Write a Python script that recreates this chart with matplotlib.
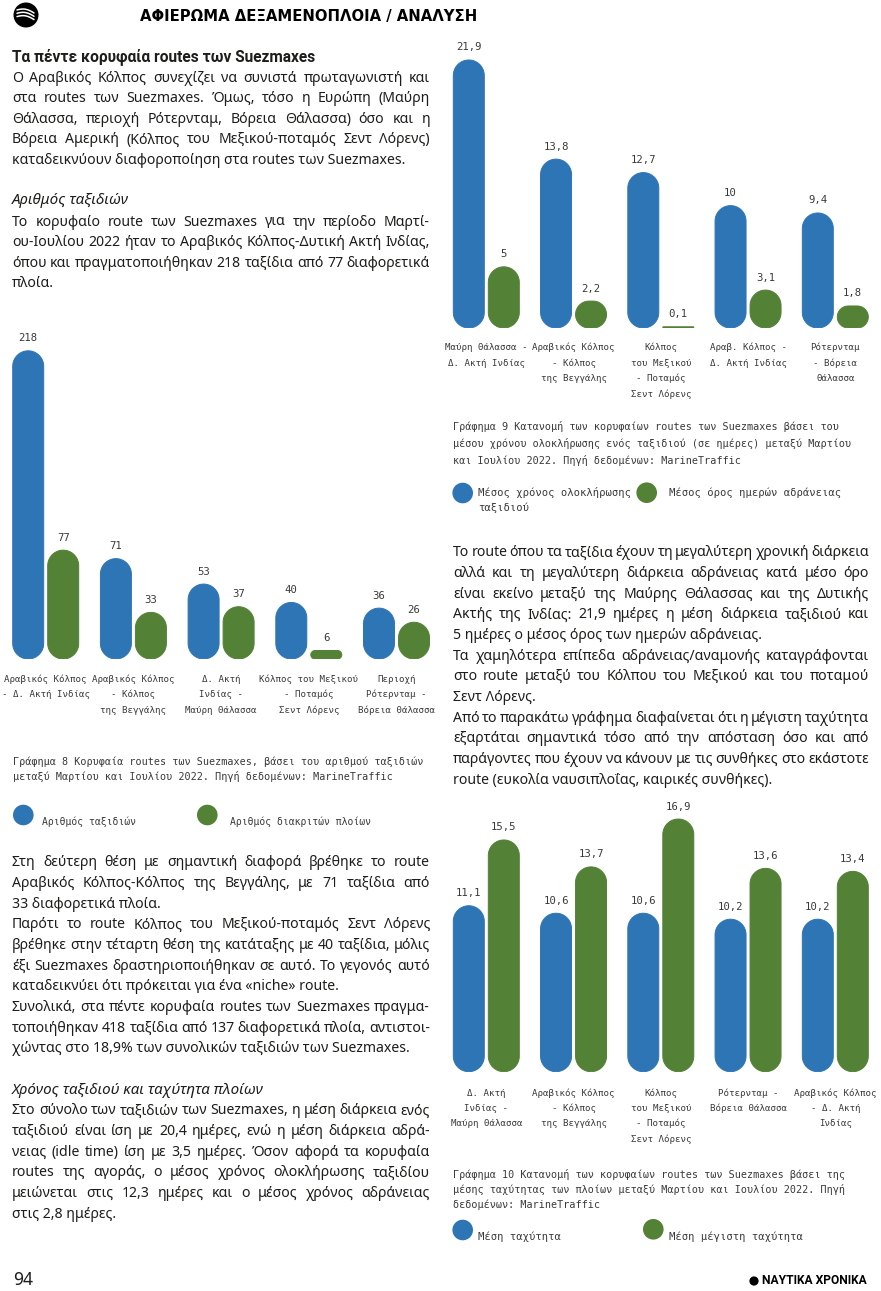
import numpy as np
import matplotlib
matplotlib.use("Agg")
import matplotlib.pyplot as plt
from matplotlib.patches import Polygon, Circle
from matplotlib.lines import Line2D
from matplotlib.transforms import Affine2D
from matplotlib.font_manager import FontProperties

W, H = 881, 1291
BLUE = "#2e75b6"
GREEN = "#538135"
INK = "#1d1d1b"
GREY = "#3a3a3a"
SANS = ["Noto Sans", "DejaVu Sans"]
BOLD = ["Roboto", "DejaVu Sans"]
MONO = ["DejaVu Sans Mono"]

# ---- Γράφημα 8: αριθμός ταξιδιών / διακριτών πλοίων
routes_trips = ["Αραβικός Κόλπος\n- Δ. Ακτή Ινδίας",
                "Αραβικός Κόλπος\n- Κόλπος\nτης Βεγγάλης",
                "Δ. Ακτή\nΙνδίας -\nΜαύρη Θάλασσα",
                "Κόλπος του Μεξικού\n- Ποταμός\nΣεντ Λόρενς",
                "Περιοχή\nΡότερνταμ -\nΒόρεια Θάλασσα"]
trips = [218, 71, 53, 40, 36]
ships = [77, 33, 37, 6, 26]

# ---- Γράφημα 9: μέσος χρόνος ταξιδιού / ημέρες αδράνειας
routes_time = ["Μαύρη Θάλασσα -\nΔ. Ακτή Ινδίας",
               "Αραβικός Κόλπος\n- Κόλπος\nτης Βεγγάλης",
               "Κόλπος\nτου Μεξικού\n- Ποταμός\nΣεντ Λόρενς",
               "Αραβ. Κόλπος -\nΔ. Ακτή Ινδίας",
               "Ρότερνταμ\n- Βόρεια\nΘάλασσα"]
voyage_days = [21.9, 13.8, 12.7, 10, 9.4]
idle_days = [5, 2.2, 0.1, 3.1, 1.8]

# ---- Γράφημα 10: μέση / μέγιστη ταχύτητα
routes_speed = ["Δ. Ακτή\nΙνδίας -\nΜαύρη Θάλασσα",
                "Αραβικός Κόλπος\n- Κόλπος\nτης Βεγγάλης",
                "Κόλπος\nτου Μεξικού\n- Ποταμός\nΣεντ Λόρενς",
                "Ρότερνταμ -\nΒόρεια Θάλασσα",
                "Αραβικός Κόλπος\n- Δ. Ακτή\nΙνδίας"]
avg_speed = [11.1, 10.6, 10.6, 10.2, 10.2]
max_speed = [15.5, 13.7, 16.9, 13.6, 13.4]

captions = {
    8: ["Γράφημα 8 Κορυφαία routes των Suezmaxes, βάσει του αριθμού ταξιδιών",
        "μεταξύ Μαρτίου και Ιουλίου 2022. Πηγή δεδομένων: MarineTraffic"],
    9: ["Γράφημα 9 Κατανομή των κορυφαίων routes των Suezmaxes βάσει του",
        "μέσου χρόνου ολοκλήρωσης ενός ταξιδιού (σε ημέρες) μεταξύ Μαρτίου",
        "και Ιουλίου 2022. Πηγή δεδομένων: MarineTraffic"],
    10: ["Γράφημα 10 Κατανομή των κορυφαίων routes των Suezmaxes βάσει της",
         "μέσης ταχύτητας των πλοίων μεταξύ Μαρτίου και Ιουλίου 2022. Πηγή",
         "δεδομένων: MarineTraffic"],
}

# body text, one list per paragraph (last line of each is left aligned)
left_top = [
    ["Ο Αραβικός Κόλπος συνεχίζει να συνιστά πρωταγωνιστή και",
     "στα routes των Suezmaxes. Όμως, τόσο η Ευρώπη (Μαύρη",
     "Θάλασσα, περιοχή Ρότερνταμ, Βόρεια Θάλασσα) όσο και η",
     "Βόρεια Αμερική (Κόλπος του Μεξικού-ποταμός Σεντ Λόρενς)",
     "καταδεικνύουν διαφοροποίηση στα routes των Suezmaxes."],
]
left_mid = [
    ["Το κορυφαίο route των Suezmaxes για την περίοδο Μαρτί-",
     "ου-Ιουλίου 2022 ήταν το Αραβικός Κόλπος-Δυτική Ακτή Ινδίας,",
     "όπου και πραγματοποιήθηκαν 218 ταξίδια από 77 διαφορετικά",
     "πλοία."],
]
left_bottom = [
    ["Στη δεύτερη θέση με σημαντική διαφορά βρέθηκε το route",
     "Αραβικός Κόλπος-Κόλπος της Βεγγάλης, με 71 ταξίδια από",
     "33 διαφορετικά πλοία."],
    ["Παρότι το route Κόλπος του Μεξικού-ποταμός Σεντ Λόρενς",
     "βρέθηκε στην τέταρτη θέση της κατάταξης με 40 ταξίδια, μόλις",
     "έξι Suezmaxes δραστηριοποιήθηκαν σε αυτό. Το γεγονός αυτό",
     "καταδεικνύει ότι πρόκειται για ένα «niche» route."],
    ["Συνολικά, στα πέντε κορυφαία routes των Suezmaxes πραγμα-",
     "τοποιήθηκαν 418 ταξίδια από 137 διαφορετικά πλοία, αντιστοι-",
     "χώντας στο 18,9% των συνολικών ταξιδιών των Suezmaxes."],
]
left_last = [
    ["Στο σύνολο των ταξιδιών των Suezmaxes, η μέση διάρκεια ενός",
     "ταξιδιού είναι ίση με 20,4 ημέρες, ενώ η μέση διάρκεια αδρά-",
     "νειας (idle time) ίση με 3,5 ημέρες. Όσον αφορά τα κορυφαία",
     "routes της αγοράς, ο μέσος χρόνος ολοκλήρωσης ταξιδίου",
     "μειώνεται στις 12,3 ημέρες και ο μέσος χρόνος αδράνειας",
     "στις 2,8 ημέρες."],
]
right_text = [
    ["Το route όπου τα ταξίδια έχουν τη μεγαλύτερη χρονική διάρκεια",
     "αλλά και τη μεγαλύτερη διάρκεια αδράνειας κατά μέσο όρο",
     "είναι εκείνο μεταξύ της Μαύρης Θάλασσας και της Δυτικής",
     "Ακτής της Ινδίας: 21,9 ημέρες η μέση διάρκεια ταξιδιού και",
     "5 ημέρες ο μέσος όρος των ημερών αδράνειας."],
    ["Τα χαμηλότερα επίπεδα αδράνειας/αναμονής καταγράφονται",
     "στο route μεταξύ του Κόλπου του Μεξικού και του ποταμού",
     "Σεντ Λόρενς."],
    ["Από το παρακάτω γράφημα διαφαίνεται ότι η μέγιστη ταχύτητα",
     "εξαρτάται σημαντικά τόσο από την απόσταση όσο και από",
     "παράγοντες που έχουν να κάνουν με τις συνθήκες στο εκάστοτε",
     "route (ευκολία ναυσιπλοΐας, καιρικές συνθήκες)."],
]

fig = plt.figure(figsize=(W / 100, H / 100), dpi=100)
fig.patch.set_facecolor("white")
# page pixel coordinates, origin top-left
PX = Affine2D().scale(1 / W, -1 / H).translate(0, 1) + fig.transFigure
renderer = fig.canvas.get_renderer()


def text_width(s, prop):
    return renderer.get_text_width_height_descent(s, prop, ismath=False)[0]


def fit_size(s, family, weight, width, style="normal"):
    p = FontProperties(family=family, weight=weight, style=style, size=10)
    return 10 * width / text_width(s, p)


def put(x, y, s, **kw):
    kw.setdefault("va", "baseline")
    kw.setdefault("ha", "left")
    return fig.text(x, y, s, transform=PX, **kw)


# ---- body font size: calibrate on a known last line, then make sure lines fit
body_size = fit_size("καταδεικνύουν διαφοροποίηση στα routes των Suezmaxes.", SANS, "normal", 401)
probe = FontProperties(family=SANS, size=10)
space10 = text_width("a a", probe) - text_width("aa", probe)
for block in left_top + left_mid + left_bottom + left_last + right_text:
    for line in block[:-1]:
        words = line.split(" ")
        need = (sum(text_width(w, probe) for w in words) + 0.65 * space10 * (len(words) - 1)) * body_size / 10
        if need > 417:
            body_size *= 417 / need
BODY = FontProperties(family=SANS, size=body_size)


def paragraphs(blocks, x0, x1, y0, step=20.65):
    y = y0
    for block in blocks:
        for i, line in enumerate(block):
            words = line.split(" ")
            if i == len(block) - 1 or len(words) == 1:
                put(x0, y, line, fontproperties=BODY, color=INK)
            else:
                widths = [text_width(w, BODY) for w in words]
                gap = (x1 - x0 - sum(widths)) / (len(words) - 1)
                x = x0
                for w, wd in zip(words, widths):
                    put(x, y, w, fontproperties=BODY, color=INK)
                    x += wd + gap
            y += step
    return y


def pill(ax, x, v, bw, m, col):
    # rounded bar: corner radius = half the bar width (or half its height if shorter)
    rx = min(bw / 2, v / (2 * m))
    ry = rx * m
    q = np.linspace(0, np.pi / 2, 14)
    corners = [(x + bw / 2 - rx, v - ry, 0), (x - bw / 2 + rx, v - ry, np.pi / 2),
               (x - bw / 2 + rx, ry, np.pi), (x + bw / 2 - rx, ry, 1.5 * np.pi)]
    pts = [np.column_stack([cx + rx * np.cos(a0 + q), cy + ry * np.sin(a0 + q)])
           for cx, cy, a0 in corners]
    ax.add_patch(Polygon(np.vstack(pts), closed=True, fc=col, ec=col, lw=0.7))


def bar_chart(left, right, top, base, group0, step, ymax, a, b, labels, lab_gap, lab_step):
    ax = fig.add_axes([left / W, 1 - base / H, (right - left) / W, (base - top) / H])
    ax.set_xlim(-(group0 - left) / step, (right - group0) / step)
    ax.set_ylim(0, ymax)
    ax.axis("off")
    bw = 31 / step
    off = 17.5 / step
    m = (ymax / (base - top)) * step  # y units per x unit, in pixels
    pos = np.arange(len(a))
    for xs, vals, col in ((pos - off, a, BLUE), (pos + off, b, GREEN)):
        for x, v in zip(xs, vals):
            pill(ax, x, v, bw, m, col)
            ax.annotate(f"{v:g}".replace(".", ","), (x, v), xytext=(0, 9.5),
                        textcoords="offset pixels", ha="center", va="baseline",
                        family=MONO, size=7.7, color=GREY)
    for x, lab in zip(pos, labels):
        for j, ln in enumerate(lab.split("\n")):
            ax.annotate(ln, (x, 0), xytext=(0, -(lab_gap + 3.5 + j * lab_step)),
                        textcoords="offset pixels", ha="center", va="baseline",
                        family=MONO, size=6.55, color=GREY, annotation_clip=False)
    return ax


def caption(lines, x, y, step):
    for i, ln in enumerate(lines):
        put(x, y + 3.5 + i * step, ln, family=MONO, size=7.3, color=GREY)


def legend_item(cx, cy, col, tx, ty, label, size):
    fig.add_artist(Circle((cx, cy), 10.3, transform=PX, fc=col, ec="none"))
    for i, ln in enumerate(label.split("\n")):
        put(tx, ty + 3.5 + i * 15, ln, family=MONO, size=size, color=GREY)


# ---- header
fig.add_artist(Circle((26, 15), 12.5, transform=PX, fc="black", ec="none"))
t = np.linspace(0, 1, 30)
for k in range(3):
    fig.add_artist(Line2D(17 + 17 * t, 10 + 3.3 * k + 3 * t ** 2 - 1.5 * np.sin(np.pi * t),
                          transform=PX, color="white", lw=1.1, solid_capstyle="round"))
title = "ΑΦΙΕΡΩΜΑ ΔΕΞΑΜΕΝΟΠΛΟΙΑ / ΑΝΑΛΥΣΗ"
title_family = ["Liberation Sans Narrow", "DejaVu Sans"]
put(140, 20.5, title, family=title_family, weight="bold", color="black",
    size=fit_size(title, title_family, "bold", 337))

# ---- left column text
head1 = "Τα πέντε κορυφαία routes των Suezmaxes"
put(12, 61.5, head1, family=BOLD, weight="bold", color=INK,
    size=fit_size(head1, BOLD, "bold", 304))
paragraphs(left_top, 12, 430, 81.5)
head2 = "Αριθμός ταξιδιών"
put(12, 204.5, head2, family=SANS, style="italic", color=INK,
    size=min(fit_size(head2, SANS, "normal", 135, "italic"), body_size * 1.08))
paragraphs(left_mid, 12, 430, 225.5)

bar_chart(0, 445, 331, 659, 45.7, 87.7, 232, trips, ships, routes_trips, 19.3, 15.4)
caption(captions[8], 13, 761.5, 15)
legend_item(23.3, 815, BLUE, 41.7, 821.7, "Αριθμός ταξιδιών", 7.0)
legend_item(207.3, 815, GREEN, 230, 821.7, "Αριθμός διακριτών πλοίων", 7.0)

paragraphs(left_bottom, 12, 430, 866.5)
head3 = "Χρόνος ταξιδιού και ταχύτητα πλοίων"
put(12, 1093.5, head3, family=SANS, style="italic", color=INK,
    size=min(fit_size(head3, SANS, "normal", 253, "italic"), body_size * 1.08))
paragraphs(left_last, 12, 430, 1114.5)

# ---- right column
bar_chart(440, 870, 40.4, 328, 486.3, 87.25, 23.5, voyage_days, idle_days,
          routes_time, 18.7, 15.6)
caption(captions[9], 453, 427, 16.5)
legend_item(462.7, 493, BLUE, 478.3, 492.7, "Μέσος χρόνος ολοκλήρωσης\nταξιδιού", 7.6)
legend_item(646.7, 492.7, GREEN, 669.3, 492.7, "Μέσος όρος ημερών αδράνειας", 7.6)

paragraphs(right_text, 453, 869, 556.5)

bar_chart(440, 870, 795.1, 1071.7, 486.3, 87.25, 18.5, avg_speed, max_speed,
          routes_speed, 20.6, 15.3)
caption(captions[10], 453, 1174, 15.5)
legend_item(462.7, 1230, BLUE, 478.3, 1236, "Μέση ταχύτητα", 7.6)
legend_item(653.3, 1229.3, GREEN, 669.3, 1236, "Μέση μέγιστη ταχύτητα", 7.6)

# ---- footer
put(13, 1291 - 6, "94", family=SANS, size=12.5, color=INK)
fig.add_artist(Circle((754, 1281), 4.6, transform=PX, fc="black", ec="none"))
brand = "ΝΑΥΤΙΚΑ ΧΡΟΝΙΚΑ"
put(762, 1284.5, brand, family=BOLD, weight="bold", color="black",
    size=fit_size(brand, BOLD, "bold", 105))

fig.savefig("out.png", dpi=100, facecolor="white")
